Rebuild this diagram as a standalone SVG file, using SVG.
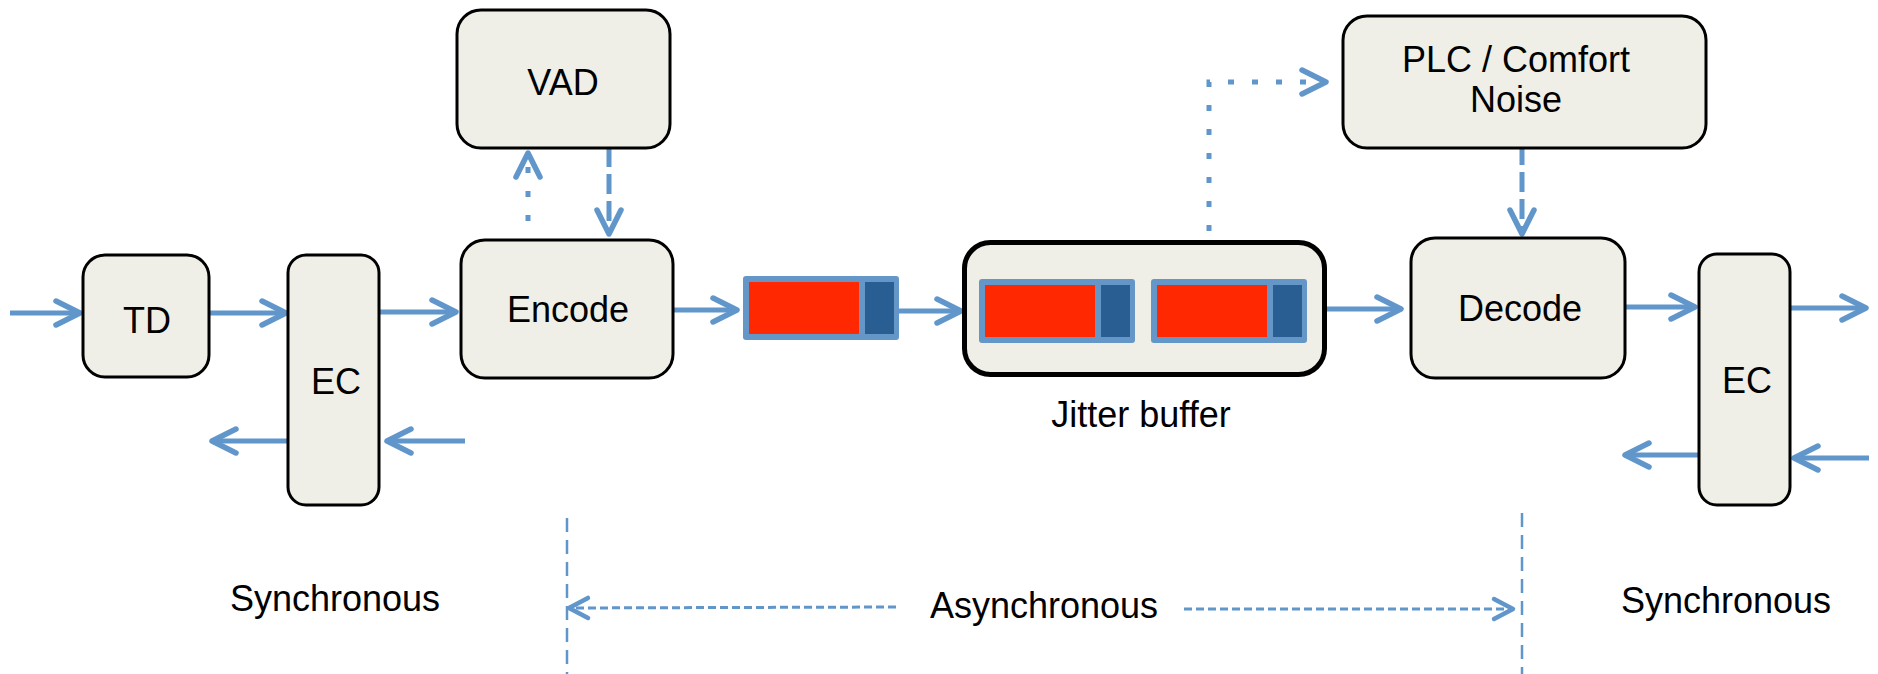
<svg xmlns="http://www.w3.org/2000/svg" width="1878" height="674" viewBox="0 0 1878 674">
<style>
.box{fill:#EFEFE7;stroke:#000;stroke-width:3}
.jb{fill:#EFEFE7;stroke:#000;stroke-width:5}
.t{font-family:"Liberation Sans",Arial,sans-serif;font-size:36px;fill:#000;text-anchor:middle}
.c{fill:none;stroke:#6196CB;stroke-width:5}
.dot{stroke-dasharray:6 18}
.dash{stroke-dasharray:20 7}
.thin{fill:none;stroke:#6196CB;stroke-width:3;stroke-dasharray:8 4}
.vline{fill:none;stroke:#6196CB;stroke-width:2.5;stroke-dasharray:14 8}
.pk{fill:#6496C8}
.red{fill:#FF2800}
.dk{fill:#285E91}
</style>
<defs>
<marker id="ah" markerUnits="userSpaceOnUse" viewBox="-30 -16 34 32" markerWidth="34" markerHeight="32" refX="0" refY="0" orient="auto">
<path d="M-24,-12 L0,0 L-24,12" fill="none" stroke="#6196CB" stroke-width="5.5" stroke-linecap="round" stroke-linejoin="round"/>
</marker>
<marker id="ahs" markerUnits="userSpaceOnUse" viewBox="-26 -14 30 28" markerWidth="30" markerHeight="28" refX="0" refY="0" orient="auto">
<path d="M-19,-10 L0,0 L-19,10" fill="none" stroke="#6196CB" stroke-width="4.5" stroke-linecap="round" stroke-linejoin="round"/>
</marker>
</defs>

<g id="connectors">
<line class="c" x1="10" y1="313" x2="80" y2="313" marker-end="url(#ah)"/>
<line class="c" x1="209" y1="313" x2="286" y2="313" marker-end="url(#ah)"/>
<line class="c" x1="379" y1="312" x2="456" y2="312" marker-end="url(#ah)"/>
<line class="c" x1="288" y1="441" x2="212" y2="441" marker-end="url(#ah)"/>
<line class="c" x1="465" y1="441" x2="387" y2="441" marker-end="url(#ah)"/>
<line class="c dot" x1="528" y1="245" x2="528" y2="153" marker-end="url(#ah)"/>
<line class="c dash" x1="609" y1="147" x2="609" y2="234" marker-end="url(#ah)"/>
<line class="c" x1="673" y1="310" x2="737" y2="310" marker-end="url(#ah)"/>
<line class="c" x1="899" y1="311" x2="961" y2="311" marker-end="url(#ah)"/>
<line class="c" x1="1327" y1="309" x2="1401" y2="309" marker-end="url(#ah)"/>
<path class="c dot" d="M1209,231 V82 H1326" marker-end="url(#ah)"/>
<line class="c dash" x1="1522" y1="145" x2="1522" y2="234" marker-end="url(#ah)"/>
<line class="c" x1="1625" y1="307" x2="1695" y2="307" marker-end="url(#ah)"/>
<line class="c" x1="1790" y1="308" x2="1866" y2="308" marker-end="url(#ah)"/>
<line class="c" x1="1869" y1="458" x2="1794" y2="458" marker-end="url(#ah)"/>
<line class="c" x1="1699" y1="455" x2="1625" y2="455" marker-end="url(#ah)"/>
<line class="vline" x1="567" y1="518" x2="567" y2="674"/>
<line class="vline" x1="1522" y1="513" x2="1522" y2="674"/>
<line class="thin" x1="896" y1="607" x2="569" y2="608" marker-end="url(#ahs)"/>
<line class="thin" x1="1184" y1="609" x2="1513" y2="609" marker-end="url(#ahs)"/>
</g>

<g id="td">
<rect class="box" x="83" y="255" width="126" height="122" rx="22"/>
<text class="t" x="147" y="333">TD</text>
</g>
<g id="ec1">
<rect class="box" x="288" y="255" width="91" height="250" rx="18"/>
<text class="t" x="336" y="394">EC</text>
</g>
<g id="vad">
<rect class="box" x="457" y="10" width="213" height="138" rx="24"/>
<text class="t" x="563" y="95">VAD</text>
</g>
<g id="encode">
<rect class="box" x="461" y="240" width="212" height="138" rx="24"/>
<text class="t" x="568" y="322">Encode</text>
</g>
<g id="packet1">
<rect class="pk" x="743" y="276" width="156" height="64" rx="3"/>
<rect class="red" x="749" y="282" width="110" height="52"/>
<rect class="dk" x="865" y="282" width="29" height="52"/>
</g>
<g id="jitter">
<rect class="jb" x="964.5" y="242.5" width="360" height="132" rx="26"/>
<g id="packet2">
<rect class="pk" x="979" y="279" width="156" height="64" rx="3"/>
<rect class="red" x="985" y="285" width="110" height="52"/>
<rect class="dk" x="1101" y="285" width="29" height="52"/>
</g>
<g id="packet3">
<rect class="pk" x="1151" y="279" width="156" height="64" rx="3"/>
<rect class="red" x="1157" y="285" width="110" height="52"/>
<rect class="dk" x="1273" y="285" width="29" height="52"/>
</g>
<text class="t" x="1141" y="427">Jitter buffer</text>
</g>
<g id="plc">
<rect class="box" x="1343" y="16" width="363" height="132" rx="24"/>
<text class="t" x="1516" y="72">PLC / Comfort</text>
<text class="t" x="1516" y="112">Noise</text>
</g>
<g id="decode">
<rect class="box" x="1411" y="238" width="214" height="140" rx="24"/>
<text class="t" x="1520" y="321">Decode</text>
</g>
<g id="ec2">
<rect class="box" x="1699" y="254" width="91" height="251" rx="18"/>
<text class="t" x="1747" y="393">EC</text>
</g>
<g id="labels">
<text class="t" x="335" y="611">Synchronous</text>
<text class="t" x="1044" y="618">Asynchronous</text>
<text class="t" x="1726" y="613">Synchronous</text>
</g>
</svg>
